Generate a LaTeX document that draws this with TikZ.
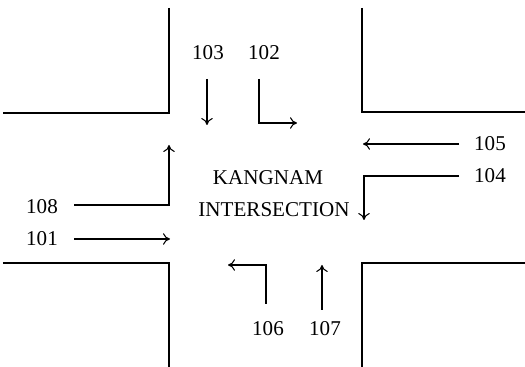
\documentclass[tikz,border=0pt]{standalone}
\usepackage{fontspec}
\setmainfont{Liberation Serif}
\usetikzlibrary{arrows.meta}
\begin{document}
\begin{tikzpicture}[x=0.02cm,y=-0.02cm,
  curb/.style={line width=0.8pt},
  flow/.style={line width=0.6pt,-{To[length=4pt,width=6.5pt]}},
  lbl/.style={font=\fontsize{12}{14}\selectfont,inner sep=0pt}]
\useasboundingbox (0,0) rectangle (525,367);
% road edges (four corner blocks)
\draw[curb] (169,8) -- (169,113) -- (3,113);
\draw[curb] (362,8) -- (362,112) -- (525,112);
\draw[curb] (3,263) -- (169,263) -- (169,367);
\draw[curb] (525,263) -- (362,263) -- (362,367);
% centre caption
\node[lbl] (title) at (268,178) {KANGNAM};
\node[lbl] (title2) at (274,210) {INTERSECTION};
% movement labels
\node[lbl] (l103) at (208,53) {103};
\node[lbl] (l102) at (264,53) {102};
\node[lbl] (l105) at (490,144) {105};
\node[lbl] (l104) at (490,176) {104};
\node[lbl] (l108) at (42,207) {108};
\node[lbl] (l101) at (42,239) {101};
\node[lbl] (l106) at (268,329) {106};
\node[lbl] (l107) at (325,329) {107};
% arrow anchor points
\coordinate (a103s) at (207,79);  \coordinate (a103e) at (207,125);
\coordinate (a102s) at (259,79);  \coordinate (a102c) at (259,123); \coordinate (a102e) at (297,123);
\coordinate (a105s) at (459,144); \coordinate (a105e) at (363,144);
\coordinate (a104s) at (459,176); \coordinate (a104c) at (364,176); \coordinate (a104e) at (364,220);
\coordinate (a108s) at (74,205);  \coordinate (a108c) at (169,205); \coordinate (a108e) at (169,145);
\coordinate (a101s) at (74,239);  \coordinate (a101e) at (170,239);
\coordinate (a106s) at (266,304); \coordinate (a106c) at (266,265); \coordinate (a106e) at (228,265);
\coordinate (a107s) at (322,310); \coordinate (a107e) at (322,265);
% movements
\draw[flow] (a103s) -- (a103e);
\draw[flow] (a102s) -- (a102c) -- (a102e);
\draw[flow] (a105s) -- (a105e);
\draw[flow] (a104s) -- (a104c) -- (a104e);
\draw[flow] (a108s) -- (a108c) -- (a108e);
\draw[flow] (a101s) -- (a101e);
\draw[flow] (a106s) -- (a106c) -- (a106e);
\draw[flow] (a107s) -- (a107e);
\end{tikzpicture}
\end{document}
